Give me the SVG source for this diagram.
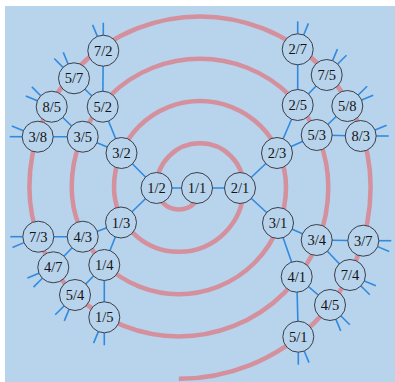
<svg xmlns="http://www.w3.org/2000/svg" width="395" height="382" viewBox="0 0 395 382">
<style>
.bg{fill:#b8d3ec}
.spiral{fill:none;stroke:#d4909c;stroke-width:4.5}
.edge{stroke:#2f8be0;stroke-width:1.6;fill:none}
.node circle{fill:#b8d3ec;stroke:#3a3f48;stroke-width:1}
.node text{font-family:"Liberation Serif",serif;font-size:14.5px;fill:#141414;text-anchor:middle}
.node line{stroke:#2f8be0;stroke-width:1.6}
</style>
<rect width="395" height="382" fill="#ffffff"/>
<rect class="bg" x="5" y="6" width="390" height="376"/>
<path class="spiral" d="M 201.4 187 A 22.55 22.55 0 0 1 156.3 187 A 43.7 43.7 0 0 1 243.7 187 A 64.85 64.85 0 0 1 114 187 A 86 86 0 0 1 286 187 A 107.15 107.15 0 0 1 71.7 187 A 128.3 128.3 0 0 1 328.3 187 A 149.45 149.45 0 0 1 29.4 187 A 170.6 170.6 0 0 1 370.6 187 A 191.75 191.75 0 0 1 178.85 378.75"/>
<g id="connectors" class="edge">
<line x1="156.5" y1="188" x2="197" y2="188"/>
<line x1="197" y1="188" x2="240" y2="188"/>
<line x1="156.5" y1="188" x2="121.5" y2="153"/>
<line x1="156.5" y1="188" x2="121" y2="222.5"/>
<line x1="240" y1="188" x2="277" y2="153"/>
<line x1="240" y1="188" x2="278" y2="223"/>
<line x1="121.5" y1="153" x2="82.7" y2="136.7"/>
<line x1="121.5" y1="153" x2="102.7" y2="106.7"/>
<line x1="102.7" y1="106.7" x2="103.3" y2="50.7"/>
<line x1="102.7" y1="106.7" x2="74" y2="78.3"/>
<line x1="82.7" y1="136.7" x2="37.7" y2="136.7"/>
<line x1="82.7" y1="136.7" x2="51.7" y2="106.7"/>
<line x1="277" y1="153" x2="297.7" y2="105"/>
<line x1="277" y1="153" x2="316.7" y2="135"/>
<line x1="297.7" y1="105" x2="297.7" y2="49.3"/>
<line x1="297.7" y1="105" x2="326.7" y2="75"/>
<line x1="316.7" y1="135" x2="347.3" y2="106"/>
<line x1="316.7" y1="135" x2="360.7" y2="136"/>
<line x1="121" y1="222.5" x2="82.7" y2="236.7"/>
<line x1="121" y1="222.5" x2="104.3" y2="265"/>
<line x1="82.7" y1="236.7" x2="38.3" y2="236.7"/>
<line x1="82.7" y1="236.7" x2="53.3" y2="267.3"/>
<line x1="104.3" y1="265" x2="75" y2="295"/>
<line x1="104.3" y1="265" x2="104.3" y2="317.3"/>
<line x1="278" y1="223" x2="316.7" y2="240"/>
<line x1="278" y1="223" x2="296.7" y2="276.7"/>
<line x1="316.7" y1="240" x2="363.3" y2="240.7"/>
<line x1="316.7" y1="240" x2="350" y2="275"/>
<line x1="296.7" y1="276.7" x2="330" y2="305"/>
<line x1="296.7" y1="276.7" x2="298.3" y2="336.7"/>
</g>
<g id="n1_1" class="node" transform="translate(197,188)"><circle r="15.5"/><text y="5">1/1</text></g>
<g id="n1_2" class="node" transform="translate(156.5,188)"><circle r="15.5"/><text y="5">1/2</text></g>
<g id="n2_1" class="node" transform="translate(240,188)"><circle r="15.5"/><text y="5">2/1</text></g>
<g id="n3_2" class="node" transform="translate(121.5,153)"><circle r="15.5"/><text y="5">3/2</text></g>
<g id="n2_3" class="node" transform="translate(277,153)"><circle r="15.5"/><text y="5">2/3</text></g>
<g id="n1_3" class="node" transform="translate(121,222.5)"><circle r="15.5"/><text y="5">1/3</text></g>
<g id="n3_1" class="node" transform="translate(278,223)"><circle r="15.5"/><text y="5">3/1</text></g>
<g id="n5_2" class="node" transform="translate(102.7,106.7)"><circle r="15.5"/><text y="5">5/2</text></g>
<g id="n3_5" class="node" transform="translate(82.7,136.7)"><circle r="15.5"/><text y="5">3/5</text></g>
<g id="n7_2" class="node" transform="translate(103.3,50.7)"><line x1="-5.93" y1="-14.32" x2="-10.72" y2="-25.87"/><line x1="0" y1="-15.5" x2="0" y2="-28"/><circle r="15.5"/><text y="5">7/2</text></g>
<g id="n5_7" class="node" transform="translate(74,78.3)"><line x1="-10.96" y1="-10.96" x2="-19.8" y2="-19.8"/><line x1="-5.93" y1="-14.32" x2="-10.72" y2="-25.87"/><circle r="15.5"/><text y="5">5/7</text></g>
<g id="n8_5" class="node" transform="translate(51.7,106.7)"><line x1="-14.32" y1="-5.93" x2="-25.87" y2="-10.72"/><line x1="-10.96" y1="-10.96" x2="-19.8" y2="-19.8"/><circle r="15.5"/><text y="5">8/5</text></g>
<g id="n3_8" class="node" transform="translate(37.7,136.7)"><line x1="-15.5" y1="0" x2="-28" y2="0"/><line x1="-14.32" y1="-5.93" x2="-25.87" y2="-10.72"/><circle r="15.5"/><text y="5">3/8</text></g>
<g id="n2_5" class="node" transform="translate(297.7,105)"><circle r="15.5"/><text y="5">2/5</text></g>
<g id="n5_3" class="node" transform="translate(316.7,135)"><circle r="15.5"/><text y="5">5/3</text></g>
<g id="n2_7" class="node" transform="translate(297.7,49.3)"><line x1="0" y1="-15.5" x2="0" y2="-28"/><line x1="5.93" y1="-14.32" x2="10.72" y2="-25.87"/><circle r="15.5"/><text y="5">2/7</text></g>
<g id="n7_5" class="node" transform="translate(326.7,75)"><line x1="5.93" y1="-14.32" x2="10.72" y2="-25.87"/><line x1="10.96" y1="-10.96" x2="19.8" y2="-19.8"/><circle r="15.5"/><text y="5">7/5</text></g>
<g id="n5_8" class="node" transform="translate(347.3,106)"><line x1="10.96" y1="-10.96" x2="19.8" y2="-19.8"/><line x1="14.32" y1="-5.93" x2="25.87" y2="-10.72"/><circle r="15.5"/><text y="5">5/8</text></g>
<g id="n8_3" class="node" transform="translate(360.7,136)"><line x1="14.32" y1="-5.93" x2="25.87" y2="-10.72"/><line x1="15.5" y1="0" x2="28" y2="0"/><circle r="15.5"/><text y="5">8/3</text></g>
<g id="n4_3" class="node" transform="translate(82.7,236.7)"><circle r="15.5"/><text y="5">4/3</text></g>
<g id="n1_4" class="node" transform="translate(104.3,265)"><circle r="15.5"/><text y="5">1/4</text></g>
<g id="n7_3" class="node" transform="translate(38.3,236.7)"><line x1="-15.5" y1="0" x2="-28" y2="0"/><line x1="-14.32" y1="5.93" x2="-25.87" y2="10.72"/><circle r="15.5"/><text y="5">7/3</text></g>
<g id="n4_7" class="node" transform="translate(53.3,267.3)"><line x1="-14.32" y1="5.93" x2="-25.87" y2="10.72"/><line x1="-10.96" y1="10.96" x2="-19.8" y2="19.8"/><circle r="15.5"/><text y="5">4/7</text></g>
<g id="n5_4" class="node" transform="translate(75,295)"><line x1="-10.96" y1="10.96" x2="-19.8" y2="19.8"/><line x1="-5.93" y1="14.32" x2="-10.72" y2="25.87"/><circle r="15.5"/><text y="5">5/4</text></g>
<g id="n1_5" class="node" transform="translate(104.3,317.3)"><line x1="-5.93" y1="14.32" x2="-10.72" y2="25.87"/><line x1="0" y1="15.5" x2="0" y2="28"/><circle r="15.5"/><text y="5">1/5</text></g>
<g id="n3_4" class="node" transform="translate(316.7,240)"><circle r="15.5"/><text y="5">3/4</text></g>
<g id="n4_1" class="node" transform="translate(296.7,276.7)"><circle r="15.5"/><text y="5">4/1</text></g>
<g id="n3_7" class="node" transform="translate(363.3,240.7)"><line x1="15.5" y1="0" x2="28" y2="0"/><line x1="14.32" y1="5.93" x2="25.87" y2="10.72"/><circle r="15.5"/><text y="5">3/7</text></g>
<g id="n7_4" class="node" transform="translate(350,275)"><line x1="14.32" y1="5.93" x2="25.87" y2="10.72"/><line x1="10.96" y1="10.96" x2="19.8" y2="19.8"/><circle r="15.5"/><text y="5">7/4</text></g>
<g id="n4_5" class="node" transform="translate(330,305)"><line x1="10.96" y1="10.96" x2="19.8" y2="19.8"/><line x1="5.93" y1="14.32" x2="10.72" y2="25.87"/><circle r="15.5"/><text y="5">4/5</text></g>
<g id="n5_1" class="node" transform="translate(298.3,336.7)"><line x1="5.93" y1="14.32" x2="10.72" y2="25.87"/><line x1="0" y1="15.5" x2="0" y2="28"/><circle r="15.5"/><text y="5">5/1</text></g>
</svg>
